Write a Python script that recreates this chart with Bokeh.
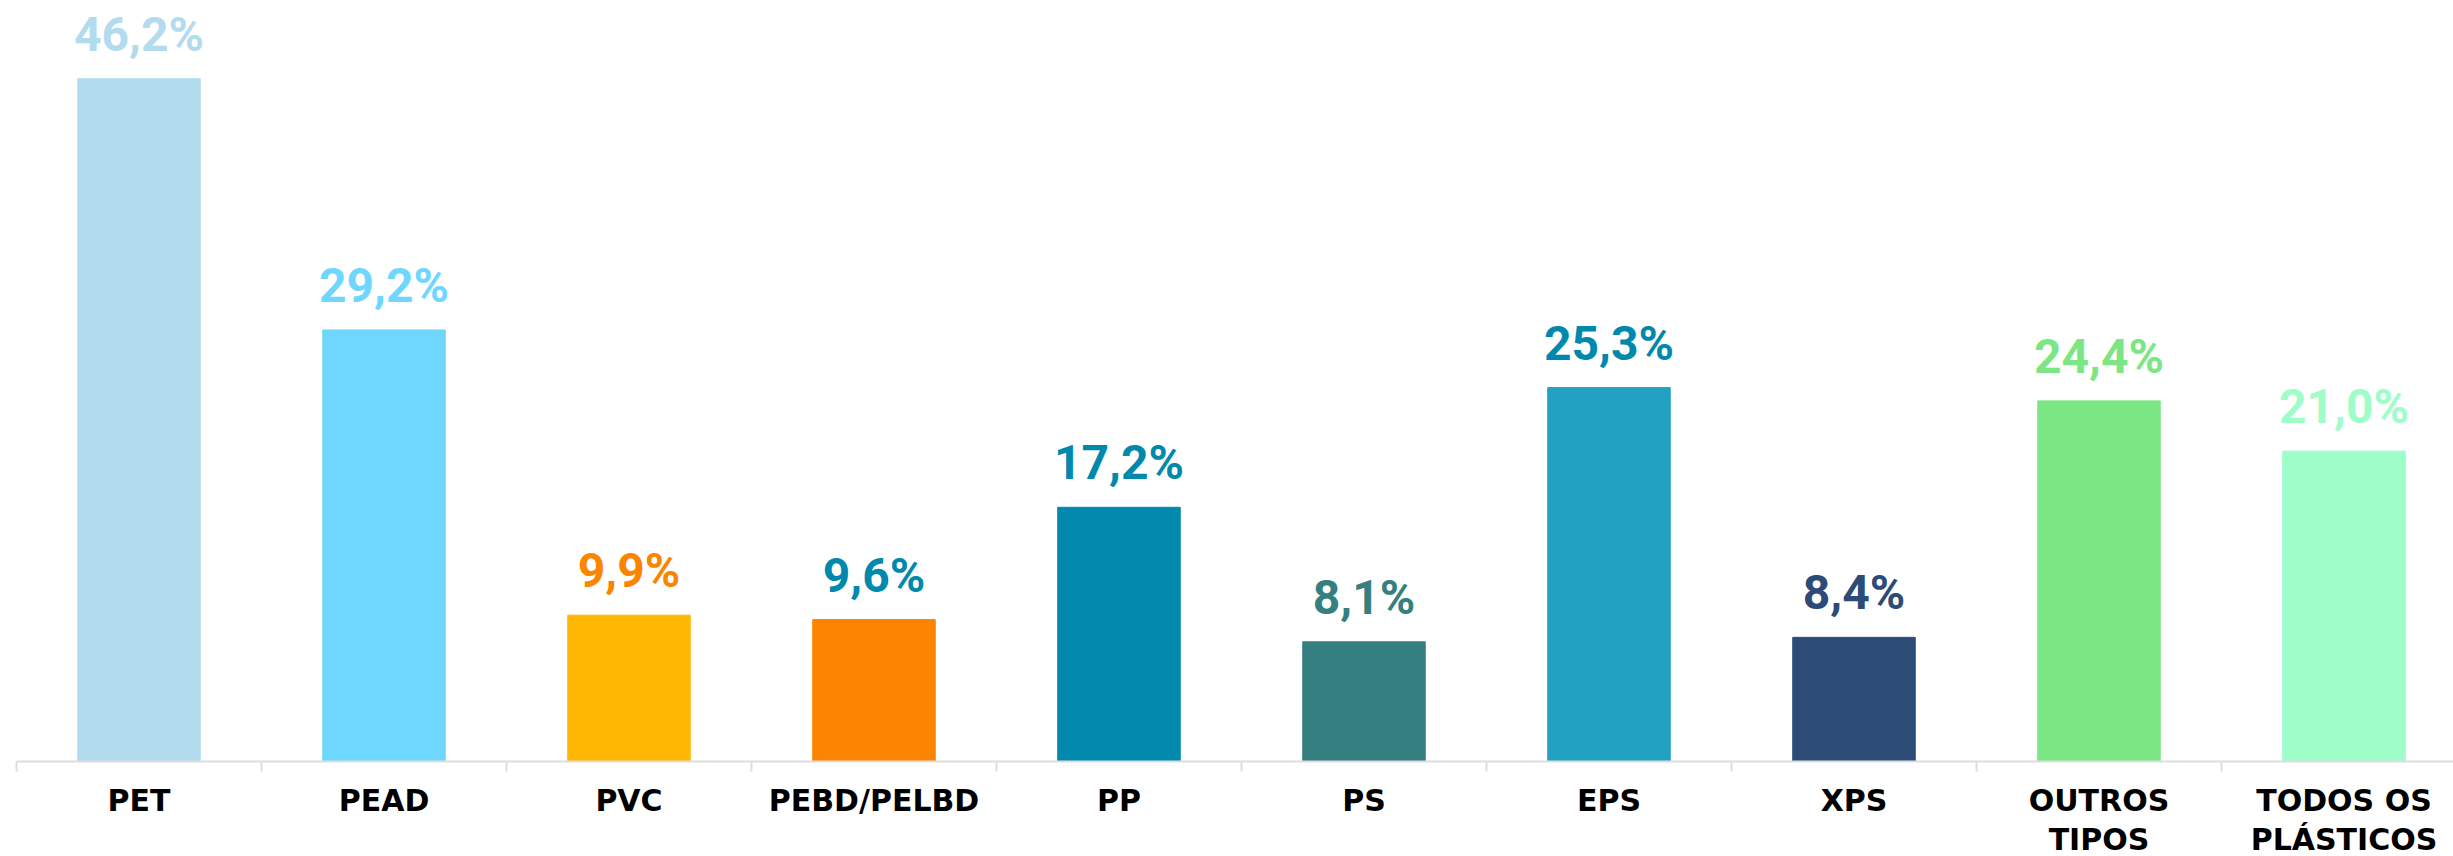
from bokeh.plotting import figure
from bokeh.models import ColumnDataSource, LabelSet, LinearAxis, FixedTicker, Range1d
from bokeh.core.properties import value
from bokeh.embed import file_html
from bokeh.resources import INLINE

categories = ["PET", "PEAD", "PVC", "PEBD/PELBD", "PP", "PS", "EPS", "XPS", "OUTROS\nTIPOS", "TODOS OS\nPLÁSTICOS"]
values = [46.2, 29.2, 9.9, 9.6, 17.2, 8.1, 25.3, 8.4, 24.4, 21.0]
labels = ["46,2%", "29,2%", "9,9%", "9,6%", "17,2%", "8,1%", "25,3%", "8,4%", "24,4%", "21,0%"]
bar_colors = ["#B3DBEE", "#6FD6FD", "#FFB703", "#FB8500", "#0189AD",
              "#357F81", "#23A1C2", "#2C4C77", "#7CE685", "#9EFDC8"]
label_colors = ["#B3DBEE", "#6FD6FD", "#FB8500", "#0189AD", "#0189AD",
                "#357F81", "#0189AD", "#2C4C77", "#7CE685", "#9EFDC8"]

xs = [i + 0.5 for i in range(len(categories))]
bounds = list(range(len(categories) + 1))
src = ColumnDataSource(dict(x=xs, top=values, label=labels,
                            color=bar_colors, lcolor=label_colors))

p = figure(frame_width=2437, frame_height=753,
           x_range=Range1d(0, 9.947), y_range=Range1d(0, 50.95),
           x_axis_location=None, y_axis_location=None,
           toolbar_location=None, output_backend="svg",
           min_border_left=16, min_border_right=0, min_border_top=8, min_border_bottom=0)
p.outline_line_color = None
p.xgrid.visible = False
p.ygrid.visible = False
p.background_fill_color = "white"
p.border_fill_color = "white"

p.vbar(x="x", top="top", width=0.5, bottom=0, color="color", source=src)

lbl = LabelSet(x="x", y="top", text="label", source=src,
               text_align="center", text_baseline="alphabetic", y_offset=28,
               text_color="lcolor", text_font=value("Roboto"),
               text_font_style="bold", text_font_size="48px")
p.add_layout(lbl)

# category labels at centres, boundary ticks as minor ticks
ax = LinearAxis(ticker=FixedTicker(ticks=xs, minor_ticks=bounds))
ax.axis_line_color = "#dddddd"
ax.axis_line_width = 2
ax.major_tick_line_color = None
ax.major_tick_out = 10
ax.major_tick_in = 0
ax.minor_tick_line_color = "#dddddd"
ax.minor_tick_line_width = 2
ax.minor_tick_out = 10
ax.minor_tick_in = 0
ax.major_label_standoff = 11
ax.major_label_overrides = {x: c for x, c in zip(xs, categories)}
ax.major_label_text_font = "DejaVu Sans"
ax.major_label_text_font_style = "bold"
ax.major_label_text_font_size = "30px"
ax.major_label_text_color = "#000000"
ax.major_label_text_line_height = 1.12
p.add_layout(ax, "below")

open("out.html", "w").write(file_html(p, INLINE))
